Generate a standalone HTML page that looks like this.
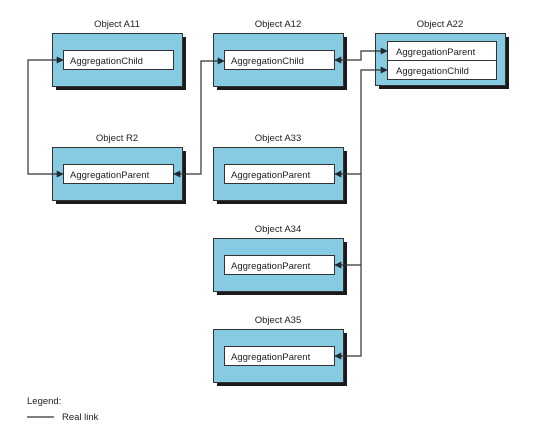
<!DOCTYPE html>
<html><head><meta charset="utf-8"><style>
html,body{margin:0;padding:0;background:#fff;}
svg{display:block;}
text{font-family:"Liberation Sans",Arial,sans-serif;font-size:9.5px;fill:#222;}
</style></head><body>
<svg width="552" height="432" viewBox="0 0 552 432" xmlns="http://www.w3.org/2000/svg">
<defs>
<marker id="ah" viewBox="0 0 10 10" refX="9" refY="5" markerWidth="7" markerHeight="7" orient="auto-start-reverse" markerUnits="userSpaceOnUse">
<path d="M0,0 L10,5 L0,10 z" fill="#1e2a30"/>
</marker>
<g id="box">
<rect x="4" y="4" width="130" height="53" fill="#1a1a1a"/>
<rect x="0.5" y="0.5" width="130" height="53" fill="#86cbe2" stroke="#333" stroke-width="1"/>
</g>
</defs>
<!-- boxes -->
<use href="#box" x="52" y="33"/>
<use href="#box" x="52" y="147"/>
<use href="#box" x="213" y="33"/>
<use href="#box" x="213" y="147"/>
<use href="#box" x="213" y="238"/>
<use href="#box" x="213" y="329"/>
<rect x="379" y="37" width="130" height="52" fill="#1a1a1a"/>
<rect x="375.5" y="33.5" width="130" height="52" fill="#86cbe2" stroke="#333"/>

<!-- inner fields -->
<g fill="#fff" stroke="#333" stroke-width="1">
<rect x="63.5" y="50.5" width="110" height="19"/>
<rect x="63.5" y="164.5" width="110" height="19"/>
<rect x="224.5" y="50.5" width="110" height="19"/>
<rect x="224.5" y="164.5" width="110" height="19"/>
<rect x="224.5" y="255.5" width="110" height="19"/>
<rect x="224.5" y="346.5" width="110" height="19"/>
<rect x="387.5" y="41.5" width="109" height="19"/>
<rect x="387.5" y="60.5" width="109" height="19"/>
</g>

<!-- titles -->
<g text-anchor="middle">
<text x="117" y="27">Object A11</text>
<text x="117" y="141">Object R2</text>
<text x="278" y="27">Object A12</text>
<text x="278" y="141">Object A33</text>
<text x="278" y="232">Object A34</text>
<text x="278" y="323">Object A35</text>
<text x="440" y="27">Object A22</text>
</g>

<!-- field labels -->
<text x="70" y="64">AggregationChild</text>
<text x="70" y="178">AggregationParent</text>
<text x="231" y="64">AggregationChild</text>
<text x="231" y="178">AggregationParent</text>
<text x="231" y="269">AggregationParent</text>
<text x="231" y="360">AggregationParent</text>
<text x="396" y="55">AggregationParent</text>
<text x="396" y="74">AggregationChild</text>

<!-- connectors -->
<g fill="none" stroke="#333" stroke-width="1.2">
<path d="M63,60 H28 V174 H63" marker-start="url(#ah)" marker-end="url(#ah)"/>
<path d="M224,61 H201 V174 H174" marker-start="url(#ah)" marker-end="url(#ah)"/>
<path d="M335,60 H361 V51 H387" marker-start="url(#ah)" marker-end="url(#ah)"/>
<path d="M387,70 H361 V356 H335" marker-start="url(#ah)" marker-end="url(#ah)"/>
<path d="M361,174 H335" marker-end="url(#ah)"/>
<path d="M361,265 H335" marker-end="url(#ah)"/>
<line x1="27" y1="417" x2="54" y2="417"/>
</g>

<text x="27" y="404">Legend:</text>
<text x="62" y="420">Real link</text>
</svg>
</body></html>
